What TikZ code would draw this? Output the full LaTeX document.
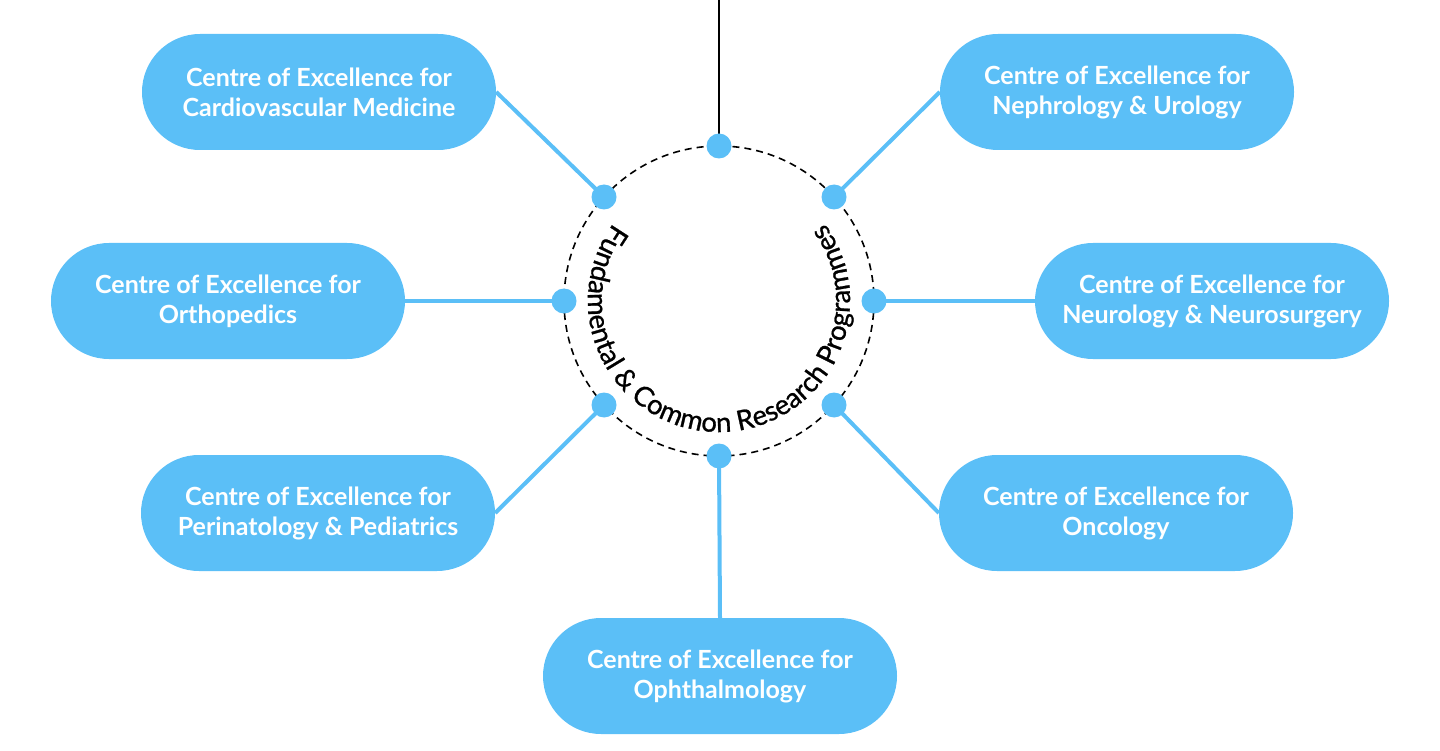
\documentclass[tikz,border=0pt]{standalone}
\usepackage{fontspec}
\setmainfont{Lato}
\newfontfamily\ringfont[FakeBold=0.9]{Lato}
\usetikzlibrary{decorations.text}
\definecolor{sky}{RGB}{91,191,247}
\begin{document}
\begin{tikzpicture}[x=1pt,y=-1pt,
  box/.style={fill=sky, rounded corners=58pt, minimum width=354pt, minimum height=116pt,
    inner sep=0pt, align=center, text=white, font=\bfseries\fontsize{25}{30}\selectfont},
  link/.style={draw=sky, line width=4pt},
  hub/.style={circle, fill=sky, minimum size=25pt, inner sep=0pt},
  ring/.style={draw=black, line width=1.6pt, dash pattern=on 7pt off 5pt},
  stem/.style={draw=black, line width=2pt}
]
\useasboundingbox (0,0) rectangle (1440,751);
\coordinate (c) at (719,301);
\coordinate (topend) at (719,0);
\draw[ring] (c) circle[radius=155];

% boxes
\node[box] (cardio) at (319,92) {Centre of Excellence for\\Cardiovascular Medicine};
\node[box] (nephro) at (1117,92) {Centre of Excellence for\\Nephrology \& Urology};
\node[box] (ortho) at (228,301) {Centre of Excellence for\\Orthopedics};
\node[box] (neuro) at (1212,301) {Centre of Excellence for\\Neurology \& Neurosurgery};
\node[box] (peri) at (318,513) {Centre of Excellence for\\Perinatology \& Pediatrics};
\node[box] (onco) at (1116,513) {Centre of Excellence for\\Oncology};
\node[box] (oph) at (720,676) {Centre of Excellence for\\Ophthalmology};

% hub dots positions
\coordinate (pT) at (719,146);
\coordinate (pB) at (719,456);
\coordinate (pL) at (564,301);
\coordinate (pR) at (874,301);
\coordinate (pUL) at (604,197);
\coordinate (pUR) at (834,197);
\coordinate (pLL) at (604,405);
\coordinate (pLR) at (834,405);

% connectors
\draw[stem] (topend) -- (pT);
\draw[link] (cardio.east) -- (pUL);
\draw[link] (nephro.west) -- (pUR);
\draw[link] (ortho.east) -- (pL);
\draw[link] (neuro.west) -- (pR);
\draw[link] (peri.east) -- (pLL);
\draw[link] (onco.west) -- (pLR);
\draw[link] (oph.north) -- (pB);

% dots
\node[hub] (dT) at (pT) {};
\node[hub] (dB) at (pB) {};
\node[hub] (dL) at (pL) {};
\node[hub] (dR) at (pR) {};
\node[hub] (dUL) at (pUL) {};
\node[hub] (dUR) at (pUR) {};
\node[hub] (dLL) at (pLL) {};
\node[hub] (dLR) at (pLR) {};

% curved text
\path[decorate, decoration={text along path, text align=center,
  text={|\ringfont\fontsize{27.5}{30}\selectfont|Fundamental {\&} Common Research Programmes}}]
  (c) ++(-120:131) arc[start angle=-120, end angle=-420, radius=131];
\end{tikzpicture}
\end{document}
